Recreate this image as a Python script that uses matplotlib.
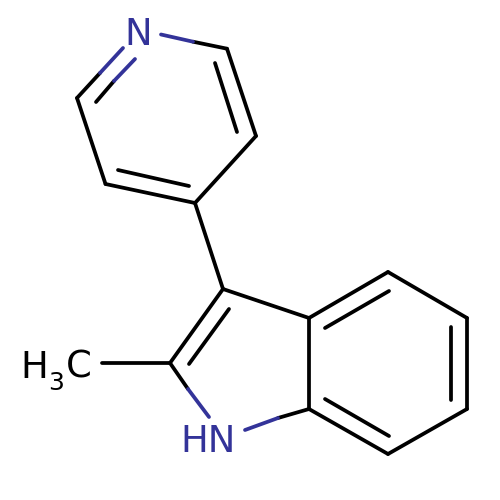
import matplotlib
matplotlib.use("Agg")
import matplotlib.pyplot as plt

# atom positions (pixels, y down)
atoms = {
    "C2": (227, 48.7), "C3": (256, 136), "C4": (195, 203),
    "C5": (105.5, 184), "C6": (77, 98), "C7": (223, 289), "C8": (170, 363),
    "C9": (309, 409), "C10": (309, 318), "C11": (388, 272),
    "C12": (467, 318), "C13": (467, 409), "C14": (388, 454), "Me": (102, 363),
}

# plain black bonds
black_bonds = [
    ("C2", "C3"), ("C3", "C4"), ("C4", "C5"), ("C5", "C6"), ("C4", "C7"),
    ("C7", "C8"), ("C8", "Me"), ("C7", "C10"), ("C9", "C10"), ("C10", "C11"),
    ("C11", "C12"), ("C12", "C13"), ("C13", "C14"), ("C14", "C9"),
]

# inner lines of the double bonds
inner_x = [(215, 237), (118, 189), (229, 189), (325, 389), (451, 451), (325, 389)]
inner_y = [(63, 132), (170, 186), (309, 364), (328, 291), (327, 400), (399, 436)]

# bonds to nitrogen, half blue half black: blue end, middle, black end
hetero_x = [(161, 193, 227), (123, 100, 77), (135, 114, 96), (209, 188, 170), (245, 278, 309)]
hetero_y = [(34.5, 41.7, 48.7), (48, 73, 98), (59, 81, 102), (417, 389, 363), (430, 418, 409)]

black = "#000000"
blue = "#333399"
lw = 2.7

fig = plt.figure(figsize=(5, 5), dpi=100)
ax = fig.add_axes([0, 0, 1, 1])
ax.set_xlim(0, 500)
ax.set_ylim(500, 0)
ax.axis("off")

for a, b in black_bonds:
    ax.plot([atoms[a][0], atoms[b][0]], [atoms[a][1], atoms[b][1]], color=black, lw=lw, solid_capstyle="round")

for xs, ys in zip(inner_x, inner_y):
    ax.plot(xs, ys, color=black, lw=lw, solid_capstyle="round")

for xs, ys in zip(hetero_x, hetero_y):
    ax.plot(xs[1:], ys[1:], color=black, lw=lw, solid_capstyle="round")
    ax.plot(xs[:2], ys[:2], color=blue, lw=lw, solid_capstyle="round")

ax.text(138, 45, "N", color=blue, fontsize=26.6, ha="center", va="baseline", family="DejaVu Sans")
ax.text(208.5, 452, "HN", color=blue, fontsize=26.6, ha="center", va="baseline", family="DejaVu Sans")
ax.text(20.5, 378, "H", color=black, fontsize=26.6, ha="left", va="baseline", family="DejaVu Sans")
ax.text(48, 390, "3", color=black, fontsize=18, ha="left", va="baseline", family="DejaVu Sans")
ax.text(65.5, 378, "C", color=black, fontsize=26.6, ha="left", va="baseline", family="DejaVu Sans")

fig.savefig("out.png", dpi=100)
